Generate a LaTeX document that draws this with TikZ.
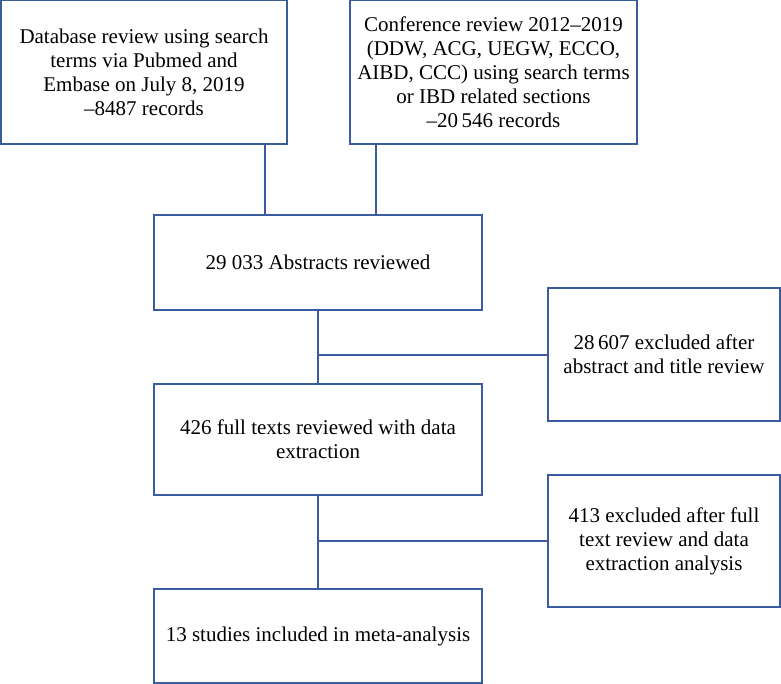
\documentclass[tikz,border=0pt]{standalone}
\usepackage{fontspec}
\setmainfont{Liberation Serif}
\usepackage{tikz}

\definecolor{boxblue}{RGB}{58,92,158}
\tikzset{
  flowbox/.style={draw=boxblue, line width=2pt, fill=white, align=center, inner sep=0pt,
    font=\fontsize{21}{24}\selectfont},
  link/.style={draw=boxblue, line width=2pt}
}

\begin{document}
\begin{tikzpicture}[x=1pt, y=-1pt]
            \useasboundingbox (0,0) rectangle (781,684);
            \node[flowbox, minimum width=286pt, minimum height=144pt] (db) at (144, 72.5)
                {Database review using search\\terms via Pubmed and\\Embase on July 8, 2019\\--8487 records};
            \node[flowbox, minimum width=287pt, minimum height=144pt] (conf) at (493.5, 72.5)
                {Conference review 2012--2019\\(DDW, ACG, UEGW, ECCO,\\AIBD, CCC) using search terms\\or IBD related sections\\--20\,546 records};
            \node[flowbox, minimum width=328pt, minimum height=95pt] (abs) at (318, 262.5) {29 033 Abstracts reviewed};
            \node[flowbox, minimum width=232pt, minimum height=133pt] (excl1) at (664, 354.5)
                {28\,607 excluded after\\abstract and title review};
            \node[flowbox, minimum width=328pt, minimum height=111pt] (full) at (318, 439.5)
                {426 full texts reviewed with data\\extraction};
            \node[flowbox, minimum width=232pt, minimum height=132pt] (excl2) at (664, 541)
                {413 excluded after full\\text review and data\\extraction analysis};
            \node[flowbox, minimum width=328pt, minimum height=94pt] (incl) at (318, 636)
                {13 studies included in meta-analysis};
            \draw[link] ([xshift=121pt]db.south) -- ([xshift=121pt]db.south |- abs.north);
            \draw[link] ([xshift=-117.5pt]conf.south) -- ([xshift=-117.5pt]conf.south |- abs.north);
            \draw[link] (abs.south) -- (full.north);
            \draw[link] (abs.south |- excl1.west) -- (excl1.west);
            \draw[link] (full.south) -- (incl.north);
            \draw[link] (full.south |- excl2.west) -- (excl2.west);
        \end{tikzpicture}
\end{document}
